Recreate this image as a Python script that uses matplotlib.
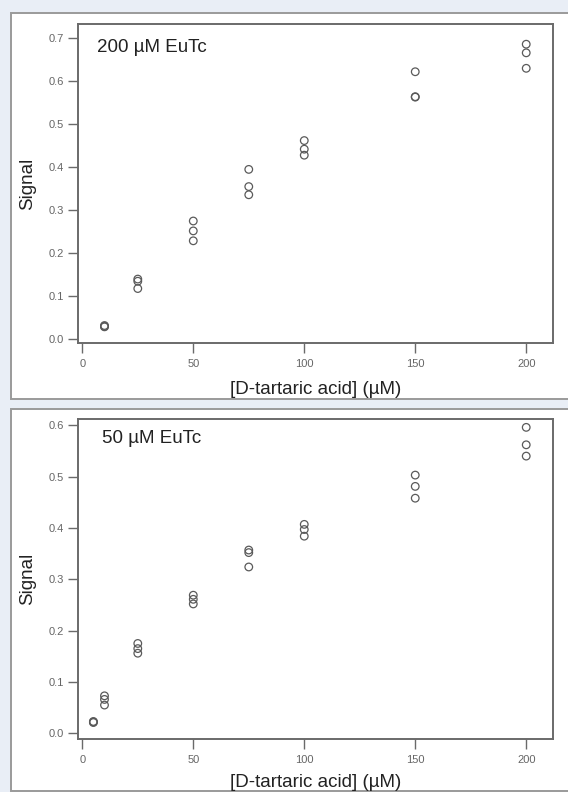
import matplotlib
matplotlib.use("Agg")
import matplotlib.pyplot as plt
from matplotlib.patches import Rectangle

plt.rcParams['font.family'] = ['Liberation Sans', 'DejaVu Sans']

# Replicate measurements (three per concentration)
conc_200 = [10, 25, 50, 75, 100, 150, 200]
signal_200 = [
    [0.029, 0.032, 0.030],
    [0.140, 0.135, 0.118],
    [0.275, 0.252, 0.229],
    [0.395, 0.355, 0.336],
    [0.462, 0.442, 0.428],
    [0.622, 0.563, 0.564],
    [0.686, 0.666, 0.630],
]

conc_50 = [5, 10, 25, 50, 75, 100, 150, 200]
signal_50 = [
    [0.021, 0.023, 0.022],
    [0.073, 0.066, 0.055],
    [0.175, 0.165, 0.156],
    [0.269, 0.261, 0.252],
    [0.357, 0.352, 0.324],
    [0.407, 0.397, 0.384],
    [0.503, 0.481, 0.458],
    [0.596, 0.562, 0.540],
]

x_ticks = [0, 50, 100, 150, 200]
y_ticks_200 = [0.0, 0.1, 0.2, 0.3, 0.4, 0.5, 0.6, 0.7]
y_ticks_50 = [0.0, 0.1, 0.2, 0.3, 0.4, 0.5, 0.6]

W, H = 568, 792
fig = plt.figure(figsize=(W / 100, H / 100), dpi=100)
fig.patch.set_facecolor('#E9EEF6')

def px_rect(x0, y0, x1, y1):
    return [x0 / W, 1 - y1 / H, (x1 - x0) / W, (y1 - y0) / H]

# white panels behind each plot
for (y0, y1) in [(13, 399), (409, 791)]:
    fig.patches.append(Rectangle((11 / W, 1 - y1 / H), (W + 10 - 11) / W, (y1 - y0) / H,
                                 transform=fig.transFigure, facecolor='white',
                                 edgecolor='#9a9a9a', linewidth=1.4, zorder=-10))

box_color = '#6a6a6a'
txt_color = '#222222'
tick_color = '#666666'

def draw_panel(rect, conc, sig, yticks, ylim, label, label_pos, xlabel_pad):
    ax = fig.add_axes(rect)
    ax.set_zorder(5)
    ax.set_facecolor('white')
    xs, ys = [], []
    for c, reps in zip(conc, sig):
        for v in reps:
            xs.append(c)
            ys.append(v)
    ax.scatter(xs, ys, s=30, facecolors='none', edgecolors='#5a5a5a', linewidths=0.9, zorder=3)
    ax.set_xlim(-1.8, 212.2)
    ax.set_ylim(*ylim)
    ax.set_xticks(x_ticks)
    ax.set_xticklabels([str(t) for t in x_ticks])
    ax.set_yticks(yticks)
    ax.set_yticklabels([f"{t:.1f}" for t in yticks])
    for s in ax.spines.values():
        s.set_color(box_color)
        s.set_linewidth(1.4)
    ax.tick_params(direction='out', length=7, width=1.0, color=box_color,
                   labelsize=8, labelcolor=tick_color)
    ax.tick_params(axis='y', pad=3.5)
    ax.tick_params(axis='x', pad=4.0)
    ax.set_ylabel('Signal', fontsize=13.5, color=txt_color, labelpad=9)
    ax.set_xlabel('[D-tartaric acid] (\u00b5M)', fontsize=13.5, color=txt_color,
                  labelpad=xlabel_pad)
    ax.text(label_pos[0], label_pos[1], label, transform=ax.transAxes, fontsize=13.5,
            color=txt_color, ha='left', va='center')
    return ax

draw_panel(px_rect(78.3, 24, 553.3, 343.3), conc_200, signal_200, y_ticks_200,
           (-0.0093, 0.733), '200 \u00b5M EuTc', (0.039, 0.927), 9)
draw_panel(px_rect(78.3, 419.3, 553.3, 739.3), conc_50, signal_50, y_ticks_50,
           (-0.0117, 0.6117), '50 \u00b5M EuTc', (0.05, 0.939), 6.5)

fig.savefig('out.png', dpi=100, facecolor=fig.get_facecolor())
